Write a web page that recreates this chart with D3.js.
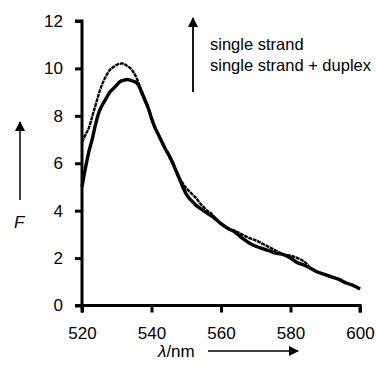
<!DOCTYPE html>
<html>
<head>
<meta charset="utf-8">
<script src="https://cdn.jsdelivr.net/npm/d3@7"></script>
<style>
  body { margin: 0; background: #fff; }
  text { font-family: "Liberation Sans", Arial, sans-serif; fill: #000; }
</style>
</head>
<body>
<svg id="chart" width="376" height="365"></svg>
<script>
const width = 376;
const height = 365;

// wavelengths (nm)
const wavelengths = [520, 521, 522, 523, 524, 525, 526, 527, 528, 529, 530, 531, 532, 533, 534, 535, 536, 537, 538, 539,
    540, 541, 542, 543, 544, 545, 546, 547, 548, 549, 550, 551, 552, 553, 554, 555, 556, 557, 558,
    560, 562, 564, 566, 568, 570, 572, 574, 576, 578, 580, 582, 584, 586, 588, 590, 592, 594, 596, 598, 600];

// single strand (thin trace)
const singleStrand = [6.9, 7.2, 7.5, 8.0, 8.5, 9.0, 9.4, 9.7, 9.93, 10.05, 10.15, 10.2, 10.2, 10.1, 10.0, 9.8, 9.5, 9.1, 8.75, 8.4,
    7.9, 7.5, 7.2, 6.9, 6.6, 6.3, 6.0, 5.7, 5.4, 5.15, 4.95, 4.8, 4.65, 4.5, 4.3, 4.15, 4.0, 3.9, 3.75,
    3.45, 3.25, 3.15, 3.0, 2.85, 2.75, 2.6, 2.45, 2.3, 2.15, 2.1, 2.0, 1.85, 1.55, 1.4, 1.3, 1.2, 1.1, 0.95, 0.85, 0.7];

// single strand + duplex (thick trace)
const withDuplex = [5.0, 5.8, 6.5, 7.05, 7.7, 8.2, 8.5, 8.75, 9.0, 9.15, 9.3, 9.45, 9.5, 9.53, 9.5, 9.45, 9.35, 9.05, 8.7, 8.35,
    7.9, 7.5, 7.2, 6.9, 6.6, 6.35, 6.05, 5.7, 5.35, 5.0, 4.7, 4.5, 4.35, 4.2, 4.1, 4.0, 3.9, 3.8, 3.7,
    3.45, 3.25, 3.1, 2.85, 2.65, 2.5, 2.4, 2.3, 2.2, 2.15, 2.0, 1.8, 1.7, 1.55, 1.4, 1.3, 1.2, 1.1, 0.95, 0.85, 0.7];

const xTicks = [520, 540, 560, 580, 600];
const yTicks = [0, 2, 4, 6, 8, 10, 12];
const legendLines = ["single strand", "single strand + duplex"];

const svg = d3.select("#chart");

const x = d3.scaleLinear().domain([520, 600]).range([82, 360]);
const y = d3.scaleLinear().domain([0, 12]).range([305.5, 21]);

// arrowhead marker
svg.append("defs").append("marker")
    .attr("id", "head")
    .attr("viewBox", "0 0 10 10")
    .attr("refX", 9).attr("refY", 5)
    .attr("markerWidth", 11).attr("markerHeight", 10)
    .attr("markerUnits", "userSpaceOnUse")
    .attr("orient", "auto")
    .append("path")
    .attr("d", "M0,0 L10,5 L0,10 Z")
    .attr("fill", "#000");

// axes
const xAxis = svg.append("g")
    .attr("transform", `translate(0,${y(0)})`)
    .call(d3.axisBottom(x).tickValues(xTicks).tickSize(7).tickPadding(14));
const yAxis = svg.append("g")
    .attr("transform", `translate(${x(520)},0)`)
    .call(d3.axisLeft(y).tickValues(yTicks).tickSize(7).tickPadding(12));

[xAxis, yAxis].forEach(g => {
    g.select(".domain").attr("stroke", "#000").attr("stroke-width", 3);
    g.selectAll(".tick line").attr("stroke", "#000").attr("stroke-width", 3);
    g.selectAll(".tick text")
        .attr("font-size", 17)
        .attr("font-family", "'Liberation Sans', Arial, sans-serif")
        .attr("fill", "#000");
});
xAxis.select(".domain").attr("d", `M${x(520)},7V0H${x(600)}V7`);
yAxis.select(".domain").attr("d", `M-7,${y(12)}H0V${y(0)}H-7`);

// curves
const line = d3.line()
    .x((d, i) => x(wavelengths[i]))
    .y(d => y(d))
    .curve(d3.curveCatmullRom);

svg.append("path")
    .datum(withDuplex)
    .attr("d", line)
    .attr("fill", "none")
    .attr("stroke", "#000")
    .attr("stroke-width", 3.4)
    .attr("stroke-linejoin", "round");

svg.append("path")
    .datum(singleStrand)
    .attr("d", line)
    .attr("fill", "none")
    .attr("stroke", "#000")
    .attr("stroke-width", 2.4)
    .attr("stroke-dasharray", "4,0.7")
    .attr("stroke-linejoin", "round");

// y axis label with arrow
svg.append("line")
    .attr("x1", 20).attr("y1", 200)
    .attr("x2", 20).attr("y2", 122)
    .attr("stroke", "#000").attr("stroke-width", 1.5)
    .attr("marker-end", "url(#head)");
svg.append("text")
    .attr("x", 14).attr("y", 228)
    .attr("font-size", 17)
    .attr("font-style", "italic")
    .text("F");

// x axis label with arrow
const xl = svg.append("text")
    .attr("x", 158).attr("y", 357)
    .attr("font-size", 17);
xl.append("tspan").attr("font-style", "italic").text("λ");
xl.append("tspan").text("/nm");
svg.append("line")
    .attr("x1", 208).attr("y1", 351)
    .attr("x2", 298).attr("y2", 351)
    .attr("stroke", "#000").attr("stroke-width", 1.5)
    .attr("marker-end", "url(#head)");

// legend arrow and text
svg.append("line")
    .attr("x1", 193).attr("y1", 92)
    .attr("x2", 193).attr("y2", 18)
    .attr("stroke", "#000").attr("stroke-width", 1.8)
    .attr("marker-end", "url(#head)");
svg.selectAll(".legend")
    .data(legendLines)
    .enter()
    .append("text")
    .attr("class", "legend")
    .attr("x", 210)
    .attr("y", (d, i) => 50 + i * 20.5)
    .attr("font-size", 16.5)
    .text(d => d);
</script>
</body>
</html>
